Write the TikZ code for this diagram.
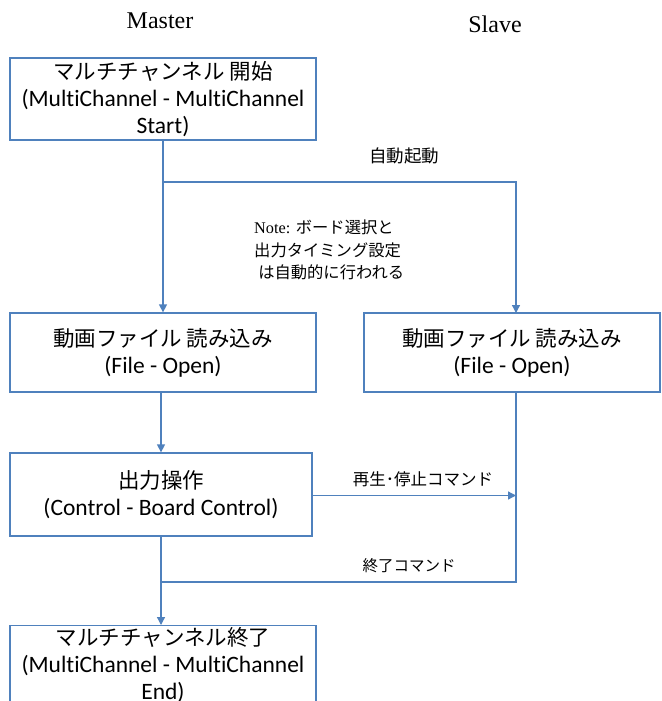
\documentclass[tikz,border=0pt]{standalone}
\usepackage{fontspec}
\setmainfont{Liberation Serif}
\newfontfamily\jp{Noto Sans CJK JP}
\newfontfamily\lat[Ligatures=NoCommon]{Carlito}
\usetikzlibrary{arrows.meta}
\definecolor{lineblue}{RGB}{79,129,189}
\newcommand{\la}[1]{{\lat\fontsize{23.5}{27}\selectfont #1}}
\tikzset{
  x=1pt, y=-1pt,
  box/.style={draw=lineblue, line width=1.3pt, fill=white, inner sep=0pt, align=center,
    font=\fontsize{21.5}{27}\selectfont},
  conn/.style={draw=lineblue, line width=1.3pt},
  arr/.style={conn, -{Triangle[width=8pt,length=8pt]}},
  lbl/.style={font=\jp\fontsize{15.5}{22}\selectfont, inner sep=0pt},
  head/.style={font=\fontsize{24}{28}\selectfont, inner sep=0pt}
}
\begin{document}
\begin{tikzpicture}
\useasboundingbox (0,0) rectangle (661,701);
\clip (0,0) rectangle (661,701);
\fill[white] (0,0) rectangle (661,701);

\node[head] (master) at (160,21) {Master};
\node[head] (slave) at (495,24) {Slave};

\node[box, minimum width=306pt, minimum height=82pt] (start) at (163,99)
  {{\jp マルチチャンネル 開始}\\\la{(MultiChannel - MultiChannel}\\\la{Start)}};
\node[box, minimum width=306pt, minimum height=79pt] (openm) at (163,352.5)
  {{\jp 動画ファイル 読み込み}\\\la{(File - Open)}};
\node[box, minimum width=296pt, minimum height=79pt] (opens) at (512,352.5)
  {{\jp 動画ファイル 読み込み}\\\la{(File - Open)}};
\node[box, minimum width=302pt, minimum height=83pt] (ctrl) at (161,494.5)
  {{\jp 出力操作}\\\la{(Control - Board Control)}};
\node[box, minimum width=306pt, minimum height=112pt, anchor=north] (endb) at (163,625) {};
\node[box, draw=none, fill=none, anchor=north] (endt) at (163,627)
  {{\jp マルチチャンネル終了}\\\la{(MultiChannel - MultiChannel}\\\la{End)}};

\coordinate (j1) at (163,182);
\coordinate (sin) at (516,313);
\coordinate (sout) at (516,392);
\coordinate (r3) at (516,495.5);
\coordinate (j2) at (162,582);

\draw[arr] (start.south) -- (openm.north);
\draw[arr] (j1) -| (sin);
\draw[arr] (openm.south -| ctrl.north) -- (ctrl.north);
\draw[arr] (ctrl.east |- r3) -- (r3);
\draw[conn] (sout) |- (j2);
\draw[arr] (ctrl.south) -- (endb.north -| ctrl.south);

\node[lbl, font=\jp\fontsize{17.5}{22}\selectfont] (auto) at (404,156) {自動起動};
\node[lbl, font=\jp\fontsize{16.3}{22.5}\selectfont, anchor=north west, align=left] (note) at (254,220)
  {{\rmfamily Note: }ボード選択と\\出力タイミング設定\\\hspace*{0.25em}は自動的に行われる};
\node[lbl, font=\jp\fontsize{16.5}{22}\selectfont] (play) at (423,479) {再生･停止コマンド};
\node[lbl] (fin) at (409,566) {終了コマンド};
\end{tikzpicture}
\end{document}
